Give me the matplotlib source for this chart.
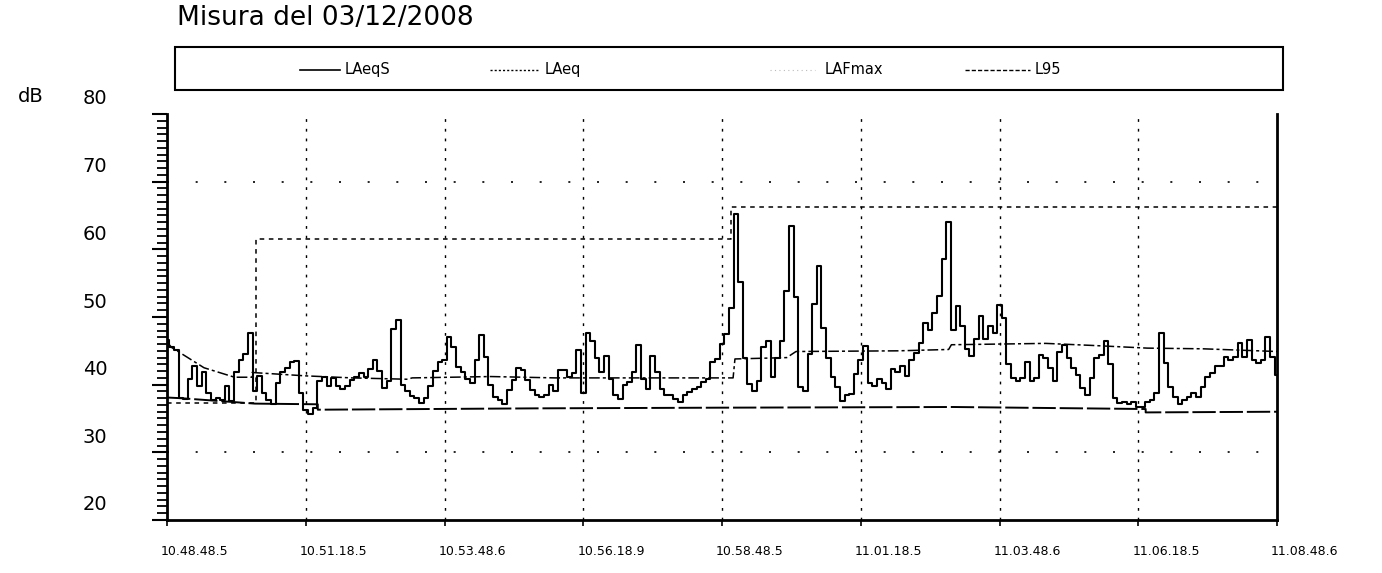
import matplotlib
matplotlib.use("Agg")
import matplotlib.pyplot as plt
from matplotlib.lines import Line2D
from matplotlib.patches import Rectangle
from matplotlib.transforms import ScaledTranslation
import numpy as np

# sampling of the short Leq trace, seconds
step_s = 5

# x axis, seconds from start of measurement
tick_seconds = [0, 150, 300, 450, 600, 750, 900, 1050, 1200]
tick_labels = ["10.48.48.5", "10.51.18.5", "10.53.48.6", "10.56.18.9", "10.58.48.5",
               "11.01.18.5", "11.03.48.6", "11.06.18.5", "11.08.48.6"]

# LAeqS, one value every 5 s
laeqs = [
    46.6, 45.6, 45.1, 38.1, 37.9, 40.8, 42.7, 39.8, 41.8, 38.8,
    37.8, 38.1, 37.8, 39.8, 37.6, 41.8, 43.7, 44.5, 47.7, 39.1,
    41.3, 38.8, 37.8, 37.1, 40.3, 41.8, 42.5, 43.3, 43.5, 38.8,
    36.3, 35.6, 36.6, 40.5, 41.2, 39.8, 41.0, 39.8, 39.3, 39.8,
    40.7, 41.2, 41.7, 41.2, 42.3, 43.7, 42.0, 39.5, 40.5, 48.3,
    49.6, 40.0, 39.0, 38.3, 38.0, 37.3, 38.0, 39.8, 42.0, 43.3,
    43.7, 47.1, 45.6, 42.6, 41.9, 40.9, 40.2, 43.7, 47.4, 44.1,
    40.0, 38.2, 37.7, 37.2, 39.2, 40.7, 42.4, 42.2, 40.7, 39.2,
    38.5, 38.2, 38.5, 40.0, 39.0, 42.2, 42.2, 41.2, 41.7, 45.1,
    38.7, 47.6, 46.4, 43.9, 41.9, 44.3, 40.9, 38.4, 37.9, 39.9,
    40.4, 41.9, 45.8, 40.9, 39.4, 44.3, 41.9, 39.4, 38.4, 38.4,
    37.9, 37.4, 38.4, 38.9, 39.4, 39.7, 40.4, 40.9, 43.3, 43.8,
    46.0, 47.5, 51.4, 65.2, 55.2, 43.9, 40.1, 39.1, 40.6, 45.5,
    46.5, 41.1, 43.9, 46.5, 53.9, 63.5, 52.9, 39.6, 39.1, 44.5,
    51.9, 57.6, 48.4, 43.9, 41.1, 39.6, 37.6, 38.4, 38.6, 41.6,
    43.7, 45.7, 40.3, 39.8, 40.8, 40.3, 39.3, 42.3, 41.8, 42.8,
    41.3, 43.7, 44.7, 46.2, 49.1, 48.1, 50.6, 53.1, 58.5, 64.0,
    48.1, 51.6, 48.6, 45.2, 44.2, 46.7, 50.1, 46.7, 48.6, 47.7,
    51.8, 49.8, 43.0, 41.0, 40.5, 41.0, 43.4, 40.5, 41.0, 44.4,
    43.9, 42.5, 40.5, 44.9, 45.9, 43.9, 42.5, 41.5, 39.5, 38.5,
    41.0, 43.9, 44.4, 46.4, 43.0, 38.0, 37.3, 37.5, 37.1, 37.5,
    36.7, 36.7, 37.5, 37.7, 38.7, 47.6, 43.2, 39.7, 38.2, 37.2,
    37.7, 38.2, 38.7, 38.2, 39.7, 41.2, 41.7, 42.7, 42.7, 44.1,
    43.6, 44.1, 46.1, 44.1, 46.6, 43.6, 43.2, 43.6, 47.1, 44.1,
    41.4,
]

# running LAeq
laeq_t = [0, 5, 40, 73, 92, 92, 150, 200, 260, 265, 350, 420, 480, 600, 612,
          614, 670, 680, 790, 845, 848, 950, 1000, 1060, 1120, 1200]
laeq_v = [46.3, 45.5, 42.5, 41.1, 41.1, 41.8, 41.3, 41.0, 40.8, 41.0, 41.2, 41.0,
          41.0, 41.0, 41.0, 43.8, 44.0, 44.9, 45.0, 45.2, 45.9, 46.1, 45.8, 45.4,
          45.3, 44.9]

# LAFmax steps
lafmax_t = [0, 96, 610, 1200]
lafmax_v = [37.3, 61.5, 66.2, 66.2]

# L95
l95_t = [0, 15, 55, 95, 163, 163, 400, 600, 850, 1058, 1058, 1200]
l95_v = [38.1, 38.0, 37.6, 37.2, 37.1, 36.3, 36.5, 36.6, 36.7, 36.4, 35.9, 36.0]

W, H = 1382, 573
fig = plt.figure(figsize=(W / 100, H / 100), dpi=100)
fig.patch.set_facecolor("white")

ax = fig.add_axes([167 / W, 1 - 520 / H, (1277 - 167) / W, (520 - 114) / H])

t = np.arange(len(laeqs)) * step_s
ax.plot(t, laeqs, color="black", lw=1.5, drawstyle="steps-mid")
ax.plot(laeq_t, laeq_v, color="black", lw=1.1, dashes=(7, 2, 2, 2))
ax.plot(lafmax_t, lafmax_v, color="black", lw=1.1, dashes=(3, 3), drawstyle="steps-post")
ax.plot(l95_t, l95_v, color="black", lw=1.4, dashes=(12, 2))

# sparse dotted grid
for v in (70, 30):
    ax.axhline(v, color="black", lw=1.2, dashes=(1.2, 16))
for s in tick_seconds[1:-1]:
    ax.axvline(s, color="black", lw=1.0, dashes=(2, 5))

ax.set_xlim(0, 1200)
ax.set_ylim(20, 80)

ax.spines["top"].set_visible(False)
for side in ("left", "bottom", "right"):
    ax.spines[side].set_linewidth(2)

ax.set_yticks(np.arange(20, 81, 10))
ax.set_yticks(np.arange(20, 81, 1), minor=True)
ax.tick_params(axis="y", which="major", direction="out", length=11, width=1.5,
               pad=32, labelsize=14)
ax.tick_params(axis="y", which="minor", direction="out", length=7, width=1.3)

ax.set_xticks(tick_seconds)
ax.set_xticklabels(tick_labels)
ax.tick_params(axis="x", which="major", direction="out", length=4, width=1.2,
               pad=14, labelsize=9)

# labels sit a little above their ticks and start at the tick
for lab in ax.get_yticklabels():
    lab.set_transform(lab.get_transform() + ScaledTranslation(0, 0.17, fig.dpi_scale_trans))
for lab in ax.get_xticklabels():
    lab.set_horizontalalignment("left")
    lab.set_transform(lab.get_transform() + ScaledTranslation(-0.06, 0, fig.dpi_scale_trans))

fig.text(18 / W, 1 - 97 / H, "dB", fontsize=14, va="center", ha="left")
fig.text(177 / W, 1 - 18 / H, "Misura del 03/12/2008", fontsize=19, va="center", ha="left")

# legend strip
fig.add_artist(Rectangle((175 / W, 1 - 90 / H), (1283 - 175) / W, 43 / H,
                         transform=fig.transFigure, fill=False, ec="black", lw=1.5))
legend_y = 1 - 70 / H
legend_items = [
    ("LAeqS", 300, 340, 345, dict(color="black", lw=1.2)),
    ("LAeq", 490, 540, 545, dict(color="black", lw=1.0, dashes=(1.5, 1.5))),
    ("LAFmax", 770, 815, 825, dict(color="#bbbbbb", lw=0.8, dashes=(1, 3))),
    ("L95", 965, 1030, 1035, dict(color="black", lw=1.0, dashes=(3, 1.5))),
]
for name, x0, x1, xt, style in legend_items:
    fig.add_artist(Line2D([x0 / W, x1 / W], [legend_y, legend_y],
                          transform=fig.transFigure, **style))
    fig.text(xt / W, legend_y, name, fontsize=10.5, va="center", ha="left")

fig.savefig("out.png", dpi=100, facecolor="white")
